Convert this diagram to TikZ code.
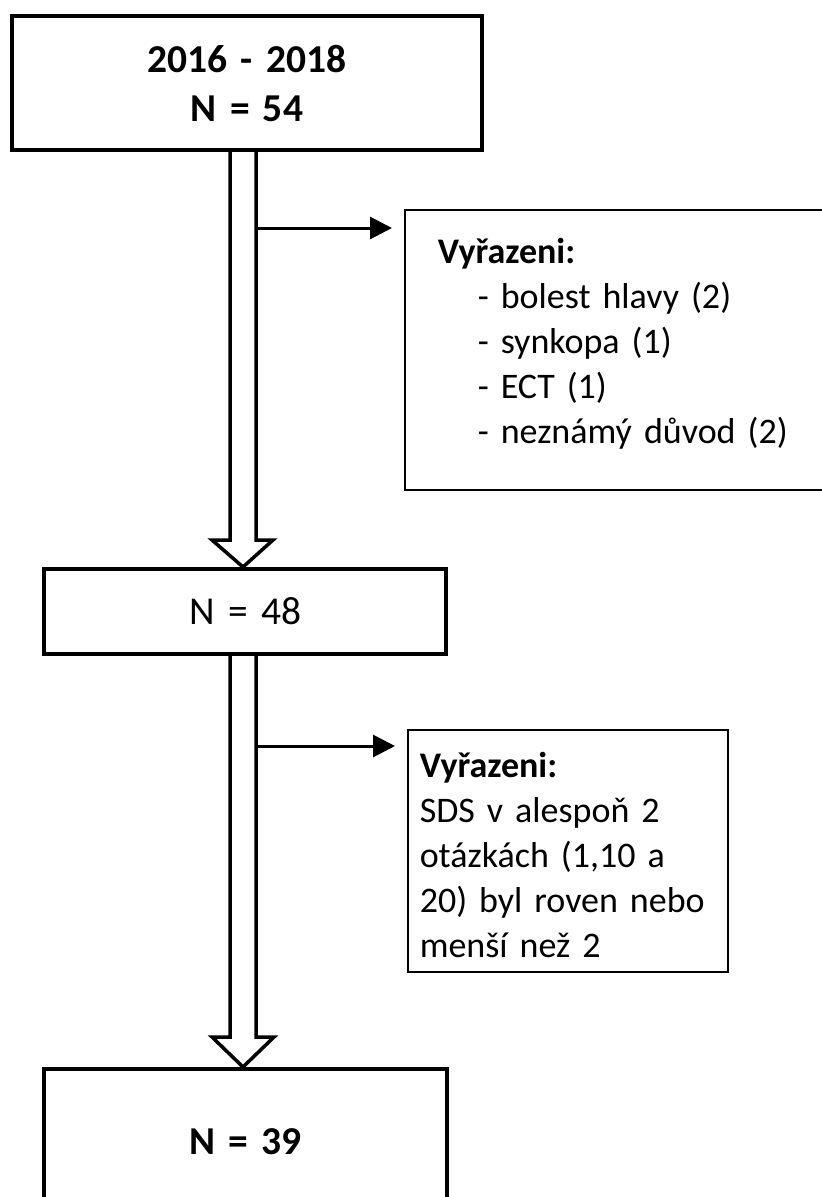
\documentclass[tikz,border=0pt]{standalone}
\usepackage{fontspec}
\setmainfont{Carlito}
\usetikzlibrary{arrows.meta,calc}
\newcommand\tightspace{\spaceskip=0.17em\relax\xspaceskip=0.17em\relax}
\begin{document}
\begin{tikzpicture}[x=1pt,y=-1pt,
  mainbox/.style={draw=black,line width=4pt,rectangle,inner sep=0pt,align=center},
  sidebox/.style={draw=black,line width=1.5pt,rectangle,inner ysep=0pt,align=left,anchor=north west,
     font=\fontsize{36}{45}\selectfont\tightspace},
  hollow/.style={draw=black,line width=3.5pt,line join=miter,fill=white},
  sidearrow/.style={draw=black,line width=3pt,-{Triangle[length=22pt,width=22pt]},shorten >=12pt}
]
\useasboundingbox (0,0) rectangle (822,1197);
\clip (0,0) rectangle (822,1197);
\fill[white] (0,0) rectangle (822,1197);

% main boxes
\node[mainbox,minimum width=470pt,text width=466pt,text height=56pt,text depth=78pt,
      font=\bfseries\fontsize{39.5}{49}\selectfont\tightspace] (top) at (247,14) [anchor=north]
      {2016 - 2018\\N = 54};
\node[mainbox,minimum width=402pt,text width=398pt,text height=55pt,text depth=30pt,
      font=\fontsize{39.5}{49}\selectfont\tightspace,anchor=north] (mid) at (245.3,567) {N = 48};
\node[mainbox,minimum width=403pt,text width=399pt,text height=85pt,text depth=58pt,
      font=\bfseries\fontsize{39.5}{49}\selectfont\tightspace,anchor=north] (bot) at (245.5,1067) {N = 39};

% side boxes
\node[sidebox,inner xsep=33pt,text width=360pt,text height=54pt,text depth=226pt] (s1) at (404,209)
  {\textbf{Vyřazeni:}\\
   \hspace*{40pt}- bolest hlavy (2)\\
   \hspace*{40pt}- synkopa (1)\\
   \hspace*{40pt}- ECT (1)\\
   \hspace*{40pt}- neznámý důvod (2)};
\node[sidebox,inner xsep=12pt,text width=296pt,text height=48pt,text depth=194pt] (s2) at (407,729)
  {\textbf{Vyřazeni:}\\
   SDS v alespoň 2\\
   otázkách (1,10 a\\
   20) byl roven nebo\\
   menší než 2};

% hollow arrows
\coordinate (a1top) at (top.south -| 243,0);
\coordinate (a1tip) at (mid.north -| 243,0);
\coordinate (a2top) at (mid.south -| 243,0);
\coordinate (a2tip) at (bot.north -| 243,0);
\draw[hollow] ($(a1top)+(-13,0)$) -- ($(a1tip)+(-13,-27)$) -- ($(a1tip)+(-31,-27)$) -- (a1tip)
   -- ($(a1tip)+(30,-27)$) -- ($(a1tip)+(13,-27)$) -- ($(a1top)+(13,0)$);
\draw[hollow] ($(a2top)+(-13,0)$) -- ($(a2tip)+(-13,-30)$) -- ($(a2tip)+(-31,-30)$) -- (a2tip)
   -- ($(a2tip)+(31,-30)$) -- ($(a2tip)+(13,-30)$) -- ($(a2top)+(13,0)$);

% side arrows
\coordinate (j1) at (257,228);
\coordinate (j2) at (257,746);
\draw[sidearrow] (j1) -- (j1 -| s1.west);
\draw[sidearrow] (j2) -- (j2 -| s2.west);
\end{tikzpicture}
\end{document}
